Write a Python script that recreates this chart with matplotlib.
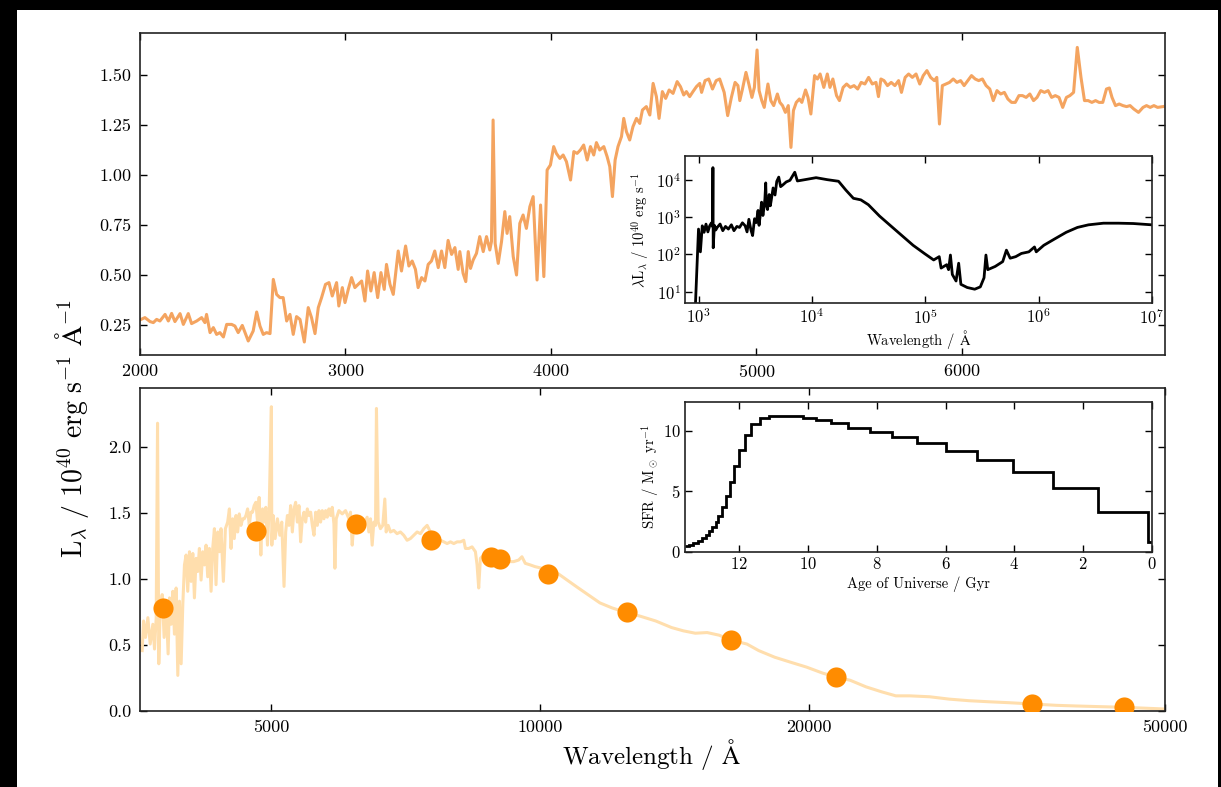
import matplotlib
matplotlib.use("Agg")
import matplotlib.pyplot as plt
from matplotlib.patches import Rectangle
from matplotlib.ticker import NullLocator, FixedLocator, FixedFormatter

plt.rcParams["font.family"] = "serif"
plt.rcParams["font.serif"] = ["cmr10", "DejaVu Serif"]
plt.rcParams["mathtext.fontset"] = "cm"
plt.rcParams["axes.formatter.use_mathtext"] = True
plt.rcParams["axes.unicode_minus"] = False

# ---- top panel: optical spectrum (linear wavelength) ----
opt_wave = [
    2005, 2024, 2049, 2065, 2081, 2097, 2122, 2138, 2154, 2170,
    2195, 2211, 2235, 2251, 2276, 2300, 2316, 2324, 2341, 2357,
    2373, 2389, 2406, 2422, 2446, 2462, 2478, 2498, 2527, 2551,
    2568, 2584, 2600, 2616, 2633, 2649, 2665, 2681, 2697, 2714,
    2730, 2746, 2762, 2779, 2800, 2819, 2835, 2852, 2868, 2884,
    2903, 2920, 2936, 2957, 2968, 2985, 2998, 3014, 3030, 3046,
    3062, 3079, 3095, 3108, 3124, 3140, 3157, 3173, 3189, 3200,
    3217, 3233, 3257, 3273, 3293, 3309, 3325, 3341, 3354, 3371,
    3387, 3403, 3419, 3435, 3452, 3468, 3484, 3500, 3517, 3533,
    3549,
    3557, 3573, 3586, 3598, 3609, 3622, 3638, 3654, 3671, 3687,
    3703, 3711, 3719, 3729, 3744, 3760, 3776, 3787, 3800, 3817,
    3833, 3849, 3865, 3881, 3898, 3914, 3933, 3950, 3966, 3982,
    3998, 4014, 4027, 4044, 4060, 4076, 4096, 4112, 4128, 4144,
    4160, 4177, 4193, 4209, 4222, 4238, 4258, 4274, 4287, 4300,
    4313, 4327, 4344, 4355, 4368, 4384, 4400, 4417, 4433, 4446,
    4465, 4482, 4498, 4514, 4527, 4543, 4559, 4576, 4595, 4615,
    4631, 4647, 4660, 4676, 4692, 4709, 4725,
    4734, 4751, 4769, 4787, 4805, 4822, 4844, 4861, 4879, 4897,
    4911, 4920, 4933, 4950, 4964, 4979, 4991, 5004, 5014, 5027,
    5039, 5057, 5071, 5085, 5103, 5115, 5128, 5142, 5156, 5169,
    5181, 5195, 5210, 5222, 5240, 5252, 5266, 5284, 5298, 5311,
    5329, 5346, 5359, 5373, 5391, 5405, 5423, 5440, 5458, 5476,
    5494, 5511, 5529, 5547, 5565, 5583, 5595, 5607, 5622, 5639,
    5657, 5675, 5693, 5707, 5725, 5742, 5760, 5778, 5796, 5813,
    5831, 5849, 5867, 5879, 5892, 5906, 5924, 5941, 5959, 5977,
    5995, 6012, 6030, 6048, 6066, 6083, 6101, 6119, 6137, 6154,
    6172, 6190, 6208, 6225, 6243, 6261, 6279, 6296, 6314, 6332,
    6350, 6367, 6385, 6403, 6421, 6438, 6456, 6474, 6492, 6510,
    6527, 6545, 6563, 6581, 6598, 6616, 6634, 6652, 6669, 6687,
    6705, 6719, 6732, 6749, 6767, 6785, 6803, 6820, 6838, 6861,
    6883, 6900, 6918, 6936, 6954, 6980,
]
opt_lum = [
    .278, .287, .267, .262, .278, .27, .303, .27, .308, .267,
    .307, .253, .307, .257, .27, .287, .262, .303, .212, .237,
    .203, .212, .19, .253, .253, .245, .212, .248, .17, .22,
    .315, .245, .203, .212, .207, .478, .403, .387, .387, .27,
    .303, .203, .292, .278, .165, .337, .287, .207, .337, .387,
    .453, .462, .395, .462, .345, .437, .362, .428, .487, .437,
    .453, .47, .37, .52, .42, .512, .387, .512, .428, .553,
    .453, .403, .62, .52, .645, .545, .57, .528, .437, .487,
    .47, .553, .57, .62, .537, .62, .537, .673, .603, .637,
    .528,
    .617, .508, .467, .617, .533, .575, .608, .692, .617, .692,
    .625, .667, 1.275, .658, .558, .667, .817, .708, .792, .592,
    .5, .758, .8, .733, .842, .892, .475, .85, .492, 1.025,
    1.05, 1.142, 1.108, 1.083, 1.1, 1.067, .975, 1.117, 1.108, 1.125,
    1.15, 1.075, 1.142, 1.1, 1.162, 1.125, 1.142, 1.092, 1.042, .892,
    1.075, 1.142, 1.192, 1.283, 1.217, 1.175, 1.242, 1.283, 1.258, 1.325,
    1.342, 1.3, 1.458, 1.392, 1.283, 1.417, 1.383, 1.425, 1.408, 1.467,
    1.442, 1.4, 1.417, 1.392, 1.417, 1.442, 1.458,
    1.413, 1.472, 1.48, 1.43, 1.472, 1.48, 1.413, 1.297, 1.388, 1.463,
    1.447, 1.372, 1.43, 1.513, 1.455, 1.388, 1.438, 1.625, 1.422, 1.372,
    1.338, 1.455, 1.372, 1.347, 1.405, 1.363, 1.347, 1.313, 1.347, 1.138,
    1.322, 1.363, 1.38, 1.363, 1.425, 1.388, 1.305, 1.497, 1.48, 1.505,
    1.438, 1.505, 1.438, 1.48, 1.397, 1.372, 1.438, 1.455, 1.438, 1.447,
    1.43, 1.463, 1.455, 1.488, 1.455, 1.463, 1.392, 1.48, 1.472, 1.447,
    1.463, 1.447, 1.472, 1.413, 1.488, 1.505, 1.488, 1.505, 1.455, 1.497,
    1.522, 1.488, 1.472, 1.488, 1.255, 1.447, 1.455, 1.463, 1.48, 1.463,
    1.472, 1.447, 1.472, 1.497, 1.48, 1.472, 1.48, 1.447, 1.43, 1.372,
    1.422, 1.405, 1.413, 1.38, 1.363, 1.363, 1.397, 1.397, 1.388, 1.405,
    1.372, 1.388, 1.422, 1.413, 1.422, 1.388, 1.397, 1.388, 1.338, 1.388,
    1.397, 1.413, 1.638, 1.488, 1.372, 1.372, 1.363, 1.372, 1.363, 1.363,
    1.43, 1.435, 1.388, 1.347, 1.355, 1.347, 1.342, 1.347, 1.33, 1.313,
    1.338, 1.347, 1.338, 1.347, 1.338, 1.342,
]

# ---- bottom panel: full model spectrum (log wavelength) ----
sed_wave = [
    3590, 3603, 3621, 3643, 3665, 3690, 3706, 3722, 3735, 3747,
    3760, 3780, 3799, 3819, 3838, 3852, 3868, 3885, 3901, 3918,
    3935, 3952, 3969, 3986, 4003, 4020, 4037, 4055, 4072, 4090,
    4107, 4125, 4142, 4160, 4178, 4196, 4214, 4232, 4250, 4268,
    4287, 4305, 4324, 4342, 4361, 4380, 4398, 4425, 4448, 4474,
    4494, 4513, 4532, 4551, 4571, 4591, 4610, 4630, 4650, 4670,
    4690, 4710, 4730, 4750, 4770, 4790, 4811, 4832, 4852, 4873,
    4894, 4915, 4936, 4957, 4979, 5007, 5013, 5030, 5056, 5086,
    5117, 5143, 5173, 5195, 5218, 5240, 5262, 5285, 5308, 5330,
    5353, 5376, 5399, 5423, 5446, 5469, 5493, 5516, 5540, 5564,
    5588, 5612, 5636, 5660, 5684, 5708, 5733, 5758, 5782, 5807,
    5832, 5857, 5882, 5897, 5917, 5958, 6009, 6061, 6113, 6139,
    6166, 6192, 6245, 6299, 6353, 6408, 6436, 6463, 6491, 6519,
    6547, 6563, 6592, 6631, 6671, 6706, 6729, 6764, 6804, 6862,
    6921, 6981, 7041, 7102, 7163, 7226, 7288, 7351, 7414, 7478,
    7542, 7607, 7673, 7739, 7806, 7873, 7941, 8009, 8078, 8148,
    8218, 8253, 8324, 8395, 8468, 8504, 8540, 8577, 8651, 8725,
    8800, 8913, 9029, 9146, 9225, 9344, 9465, 9546, 9628, 9753,
    9874, 10045, 10218, 10396, 11000,
    11668, 12038, 12513, 12931, 13470, 14032, 14466, 14917, 15380, 15862,
    16355, 17036, 17565, 18300, 19067, 19864, 20695, 21427, 22230, 23155,
    24115, 24997, 25905, 27268, 28692, 30199, 31784, 33447, 35489, 37806,
    39806, 42305, 44982, 47838, 50000,
]
sed_lum = [
    .458, .683, .558, .708, .508, .658, .47, .708, 2.183, .358,
    .758, .883, .558, .808, .433, .858, .658, .908, .583, .933,
    .27, .833, .358, .808, 1.108, 1.183, .908, 1.208, .983, 1.195,
    .858, 1.158, 1.058, 1.233, .993, 1.208, 1.108, 1.258, 1.018, 1.233,
    .908, 1.233, 1.383, .958, 1.358, 1.208, 1.383, .983, 1.383, 1.433,
    1.533, 1.233, 1.458, 1.308, 1.483, 1.358, 1.495, 1.408, 1.458, 1.458,
    1.483, 1.533, 1.408, 1.508, 1.508, 1.558, 1.583, 1.433, 1.62, 1.183,
    1.533, 1.433, 1.545, 1.258, 1.533, 2.308, 1.258, 1.483, 1.308, 1.458,
    1.333, 1.433, .945, 1.358, 1.483, 1.408, 1.558, 1.358, 1.533, 1.583,
    1.433, 1.558, 1.283, 1.458, 1.508, 1.433, 1.533, 1.483, 1.508, 1.408,
    1.333, 1.508, 1.408, 1.52, 1.433, 1.52, 1.458, 1.52, 1.47, 1.533,
    1.483, 1.545, 1.42, 1.083, 1.458, 1.52, 1.495, 1.52, 1.458, 1.508,
    1.258, 1.433, 1.42, 1.383, 1.42, 1.47, 1.358, 1.458, 1.258, 1.433,
    1.408, 2.295, 1.433, 1.383, 1.408, 1.608, 1.358, 1.408, 1.358, 1.37,
    1.345, 1.358, 1.333, 1.295, 1.308, 1.333, 1.358, 1.345, 1.383, 1.408,
    1.358, 1.308, 1.283, 1.295, 1.283, 1.27, 1.283, 1.27, 1.283, 1.283,
    1.295, 1.233, 1.233, 1.245, 1.208, 1.108, .933, 1.158, 1.183, 1.17,
    1.158, 1.145, 1.145, 1.133, 1.133, 1.133, 1.145, 1.17, 1.12, 1.108,
    1.095, 1.083, 1.07, 1.058, .94,
    .82, .782, .745, .72, .683, .633, .608, .59, .595, .575,
    .538, .508, .458, .408, .37, .333, .288, .258, .233, .183,
    .145, .115, .115, .108, .09, .078, .07, .063, .053, .043,
    .038, .033, .028, .02, .015,
]

# photometric points
phot_wave = [3792, 4811, 6219, 7558, 8818, 9029, 10199, 12513, 16355, 21427, 35489, 44982]
phot_lum = [0.778, 1.362, 1.415, 1.295, 1.165, 1.152, 1.04, 0.752, 0.537, 0.257, 0.052, 0.027]

# ---- inset 1: lambda L_lambda over full range ----
full_wave = [
    912, 1000, 1039, 1079, 1120, 1164, 1210, 1255, 1300, 1330,
    1340, 1348, 1380, 1420, 1461, 1550, 1637, 1730, 1834, 1950,
    2054, 2180, 2301, 2440, 2580, 2680, 2782, 2900, 3000, 3120,
    3236, 3350, 3420, 3489, 3600, 3700, 3763, 3850, 3916, 3960,
    4064, 4200, 4300, 4385, 4550, 4730, 4900, 5102, 5300, 5505,
    5938, 6406, 7063, 7450, 8670, 10890, 13680, 17180, 19950, 23230,
    27040, 31470, 39520, 49550, 62230, 78160, 98160, 1.186e5, 1.328e5, 1.38e5,
    1.545e5, 1.606e5, 1.667e5, 1.733e5, 1.869e5, 1.971e5, 2.062e5, 2.344e5, 2.729e5, 3.06e5,
    3.30e5, 3.43e5, 3.56e5, 4.14e5, 4.82e5, 5.2e5, 5.61e5, 6.28e5, 7.05e5, 8.2e5,
    9.19e5, 9.53e5, 1.11e6, 1.39e6, 1.75e6, 2.2e6, 2.75e6, 3.73e6, 5.06e6, 6.84e6,
    1e7,
]
full_lum = [
    0.5, 476, 117, 582, 390, 646, 400, 582, 700, 560,
    21000, 150, 600, 450, 527, 650, 431, 560, 476, 620,
    431, 560, 527, 700, 582, 400, 869, 450, 319, 900,
    711, 1500, 600, 1000, 2500, 1100, 1585, 3000, 8190, 2200,
    1585, 4000, 2000, 2880, 6000, 3890, 9000, 11700, 6500, 7100,
    8700, 9600, 15800, 9230, 10000, 11300, 10000, 9060, 5250, 3170,
    2880, 2140, 1060, 582, 319, 175, 106, 71, 87, 43,
    53, 39, 96, 29, 19.4, 58, 15.8, 13, 11.7, 13.5,
    23.7, 96, 39, 47.6, 64, 130, 79, 87, 106, 117,
    158, 117, 175, 261, 390, 527, 618, 684, 684, 670,
    618,
]

# ---- inset 2: star formation history ----
age_edges = [0, 0.11, 1.57, 2.88, 4.04, 5.08, 6.00, 6.82, 7.55, 8.20, 8.82,
             9.32, 9.77, 10.15, 11.13, 11.40, 11.64, 11.83, 12.00, 12.16, 12.27,
             12.38, 12.49, 12.60, 12.68, 12.78, 12.87, 12.96, 13.07, 13.20, 13.33,
             13.46, 13.57]
sfr = [0.83, 3.3, 5.3, 6.6, 7.55, 8.3, 8.95, 9.45, 9.9, 10.25,
       10.6, 10.85, 11.05, 11.2, 11.0, 10.5, 9.6, 8.4, 7.1, 5.8,
       4.6, 3.7, 3.0, 2.5, 2.05, 1.7, 1.4, 1.15, 0.92, 0.75,
       0.6, 0.47]

W, H = 1221, 787
fig = plt.figure(figsize=(W / 100, H / 100), dpi=100, facecolor="black")
fig.patches.append(Rectangle((17 / W, 0), (1218 - 17) / W, (787 - 10) / H,
                             transform=fig.transFigure, facecolor="white",
                             edgecolor="none", zorder=-10))


def axbox(l, t, r, b):
    return [l / W, 1 - b / H, (r - l) / W, (b - t) / H]


def style(ax, size):
    ax.tick_params(which="both", direction="in", top=True, right=True,
                   length=5, width=1, labelsize=size, pad=6)
    for s in ax.spines.values():
        s.set_linewidth(1.2)
        s.set_color("#222222")


ax1 = fig.add_axes(axbox(140, 33, 1165, 355))
ax1.plot(opt_wave, opt_lum, color="sandybrown", lw=2.2)
ax1.set_xlim(2000, 6990)
ax1.set_ylim(0.1, 1.71)
ax1.set_xticks([2000, 3000, 4000, 5000, 6000])
ax1.set_yticks([0.25, 0.5, 0.75, 1.0, 1.25, 1.5])
ax1.set_yticklabels(["0.25", "0.50", "0.75", "1.00", "1.25", "1.50"])
style(ax1, 13)

ax2 = fig.add_axes(axbox(140, 388, 1165, 711))
ax2.plot(sed_wave, sed_lum, color="navajowhite", lw=2.2, zorder=2)
ax2.plot(phot_wave, phot_lum, "o", color="darkorange", markersize=14.5,
         markeredgewidth=0, zorder=3)
ax2.set_xscale("log")
ax2.set_xlim(3570, 50000)
ax2.set_ylim(0, 2.45)
ax2.xaxis.set_major_locator(FixedLocator([5000, 10000, 20000, 50000]))
ax2.xaxis.set_major_formatter(FixedFormatter(["5000", "10000", "20000", "50000"]))
ax2.xaxis.set_minor_locator(NullLocator())
ax2.set_yticks([0.0, 0.5, 1.0, 1.5, 2.0])
ax2.set_yticklabels(["0.0", "0.5", "1.0", "1.5", "2.0"])
style(ax2, 13)

# inset: full spectrum
ax3 = fig.add_axes(axbox(685, 156, 1152, 303))
ax3.plot(full_wave, full_lum, color="black", lw=2)
ax3.set_xscale("log")
ax3.set_yscale("log")
ax3.set_xlim(760, 1e7)
ax3.set_ylim(5, 4.3e4)
ax3.xaxis.set_major_locator(FixedLocator([1e3, 1e4, 1e5, 1e6, 1e7]))
ax3.yaxis.set_major_locator(FixedLocator([1e1, 1e2, 1e3, 1e4]))
ax3.xaxis.set_minor_locator(NullLocator())
ax3.yaxis.set_minor_locator(NullLocator())
style(ax3, 12)
ax3.tick_params(pad=3)
ax3.set_xlabel(r"Wavelength / $\mathrm{\AA}$", fontsize=10.5, labelpad=1)
ax3.set_ylabel(r"$\mathrm{\lambda L_\lambda\ /\ 10^{40}\ erg\ s^{-1}}$", fontsize=10.5, labelpad=3)

# inset: SFH
ax4 = fig.add_axes(axbox(685, 402, 1152, 552))
ax4.stairs(sfr, age_edges, baseline=None, color="black", lw=2)
ax4.set_xlim(13.57, 0)
ax4.set_ylim(0, 12.35)
ax4.set_xticks([12, 10, 8, 6, 4, 2, 0])
ax4.set_yticks([0, 5, 10])
style(ax4, 12)
ax4.tick_params(pad=3)
ax4.set_xlabel("Age of Universe / Gyr", fontsize=10.5, labelpad=3)
ax4.set_ylabel(r"SFR / M$_\odot$ yr$^{-1}$", fontsize=10.5, labelpad=1)

fig.text(652 / W, 1 - 755 / H, r"Wavelength / $\mathrm{\AA}$", fontsize=18,
         ha="center", va="center")
fig.text(72 / W, 1 - 428 / H,
         r"$\mathrm{L_\lambda\ /\ 10^{40}\ erg\ s^{-1}\ \AA^{-1}}$",
         fontsize=20, rotation=90, ha="center", va="center")

fig.savefig("out.png", dpi=100, facecolor=fig.get_facecolor())
